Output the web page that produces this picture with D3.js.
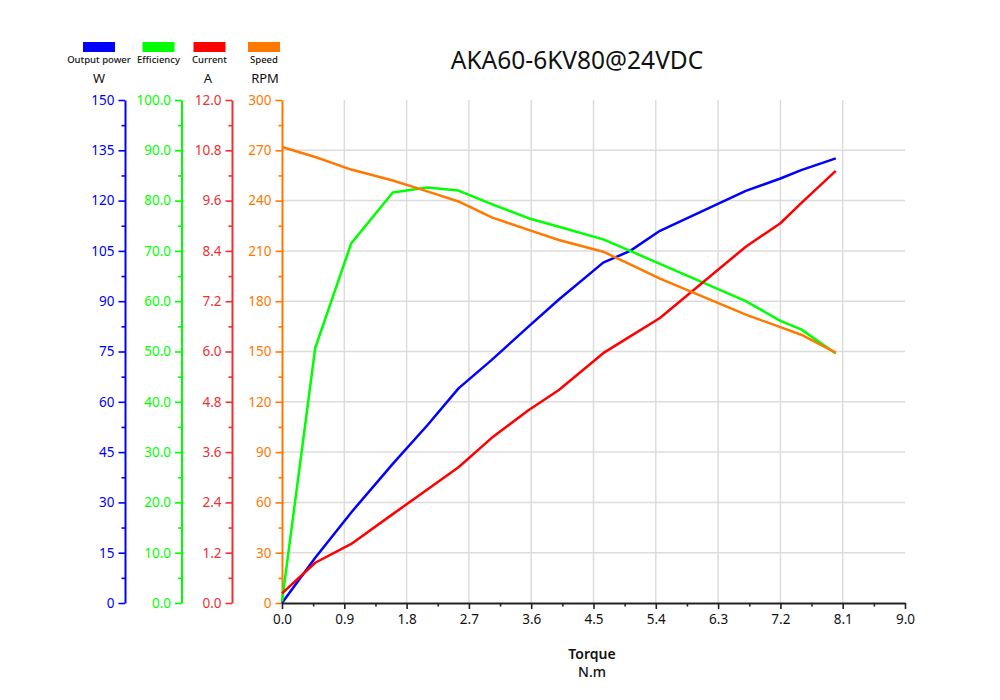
<!DOCTYPE html>
<html>
<head>
<meta charset="utf-8">
<script src="https://cdn.jsdelivr.net/npm/d3@7"></script>
<style>
  body { margin: 0; background: #fff; }
  svg { font-family: "Noto Sans", "Open Sans", sans-serif; }
  .grid line { stroke: #dcdcdc; stroke-width: 1.5; }
  .series { fill: none; stroke-width: 2.5; stroke-linejoin: round; }
</style>
</head>
<body>
<svg id="chart" width="1000" height="700"></svg>
<script>
// Values
const torque     = [0, 0.48, 1.0, 1.6, 2.1, 2.55, 3.03, 3.56, 4.0, 4.64, 5.03, 5.46, 6.7, 7.2, 7.5, 8.0];
const power      = [0, 13.5, 27, 41.5, 53, 64, 72.5, 82.4, 90.5, 101.5, 105, 111, 122.9, 126.6, 129.1, 132.6];
const efficiency = [0.3, 50.7, 71.5, 81.6, 82.6, 82.0, 79.3, 76.5, 74.8, 72.3, 70.0, 67.4, 60.0, 56.1, 54.4, 49.6];
const current    = [0.23, 0.96, 1.41, 2.12, 2.71, 3.24, 3.94, 4.6, 5.08, 5.96, 6.36, 6.8, 8.5, 9.06, 9.54, 10.31];
const speed      = [272, 266, 258.5, 252, 245.5, 239.5, 230, 222.5, 216.5, 209.5, 202, 193.5, 172, 164.5, 160, 149.3];

const xTicks        = [0, 0.9, 1.8, 2.7, 3.6, 4.5, 5.4, 6.3, 7.2, 8.1, 9.0];
const powerTicks    = [0, 15, 30, 45, 60, 75, 90, 105, 120, 135, 150];
const effTicks      = [0, 10, 20, 30, 40, 50, 60, 70, 80, 90, 100];
const currentTicks  = [0, 1.2, 2.4, 3.6, 4.8, 6.0, 7.2, 8.4, 9.6, 10.8, 12.0];
const speedTicks    = [0, 30, 60, 90, 120, 150, 180, 210, 240, 270, 300];

const legendNames = ["Output power", "Efficiency", "Current", "Speed"];
const colors = { power: "#0000ff", eff: "#00ff00", current: "#ff0000", speed: "#ff7800" };

const svg = d3.select("#chart");
const attr = { left: 282, right: 905, top: 100, bottom: 603 };

const x = d3.scaleLinear().domain([0, 9]).range([attr.left, attr.right]);
const yPower = d3.scaleLinear().domain([0, 150]).range([attr.bottom, attr.top]);
const yEff = d3.scaleLinear().domain([0, 100]).range([attr.bottom, attr.top]);
const yCurrent = d3.scaleLinear().domain([0, 12]).range([attr.bottom, attr.top]);
const ySpeed = d3.scaleLinear().domain([0, 300]).range([attr.bottom, attr.top]);

// grid
const grid = svg.append("g").attr("class", "grid");
grid.selectAll("line.h")
  .data(speedTicks.filter(d => d > 0 && d < 300))
  .enter().append("line")
  .attr("x1", attr.left).attr("x2", attr.right)
  .attr("y1", d => ySpeed(d)).attr("y2", d => ySpeed(d));
grid.selectAll("line.v")
  .data(xTicks.filter(d => d > 0 && d < 9))
  .enter().append("line")
  .attr("x1", d => x(d)).attr("x2", d => x(d))
  .attr("y1", attr.top).attr("y2", attr.bottom);

// helper for a left axis with minor ticks
function leftAxis(scale, ticks, fmt, xPos, color) {
  let mids = ticks.slice(1).map((d, i) => (d + ticks[i]) / 2);
  let g = svg.append("g").attr("transform", "translate(" + xPos + ",0)");
  g.append("g")
    .call(d3.axisLeft(scale).tickValues(mids).tickSize(3.5).tickFormat(""))
    .call(a => a.select(".domain").remove());
  g.append("g")
    .call(d3.axisLeft(scale).tickValues(ticks).tickSize(6.5).tickPadding(4).tickFormat(fmt).tickSizeOuter(0));
  g.selectAll("line").attr("stroke", color).attr("stroke-width", 1.6);
  g.selectAll(".domain").attr("stroke", color).attr("stroke-width", 2);
  g.selectAll("text").attr("fill", color).style("font-size", "13.5px")
    .style("font-family", "'Noto Sans', sans-serif");
  return g;
}

leftAxis(yPower, powerTicks, d3.format("d"), 125, colors.power);
leftAxis(yEff, effTicks, d3.format(".1f"), 181.5, colors.eff);
leftAxis(yCurrent, currentTicks, d3.format(".1f"), 232, "#ee3030");
leftAxis(ySpeed, speedTicks, d3.format("d"), attr.left, colors.speed);

// x axis
const xMids = xTicks.slice(1).map((d, i) => (d + xTicks[i]) / 2);
const xg = svg.append("g").attr("transform", "translate(0," + attr.bottom + ")");
xg.append("g")
  .call(d3.axisBottom(x).tickValues(xMids).tickSize(3.5).tickFormat(""))
  .call(a => a.select(".domain").remove());
xg.append("g")
  .call(d3.axisBottom(x).tickValues(xTicks).tickSize(6).tickPadding(5).tickFormat(d3.format(".1f")).tickSizeOuter(0));
xg.selectAll("line").attr("stroke", "#222").attr("stroke-width", 1.6);
xg.selectAll(".domain").attr("stroke", "#222").attr("stroke-width", 2.2);
xg.selectAll("text").attr("fill", "#111").style("font-size", "13.5px")
  .style("font-family", "'Noto Sans', sans-serif");

// series
const rows = torque.map((t, i) => ({ t: t, p: power[i], e: efficiency[i], c: current[i], s: speed[i] }));
const series = [
  { key: "p", scale: yPower, color: colors.power },
  { key: "e", scale: yEff, color: colors.eff },
  { key: "c", scale: yCurrent, color: colors.current },
  { key: "s", scale: ySpeed, color: colors.speed }
];
series.forEach(function(s) {
  svg.append("path")
    .datum(rows)
    .attr("class", "series")
    .attr("stroke", s.color)
    .attr("d", d3.line().x(d => x(d.t)).y(d => s.scale(d[s.key])));
});

// legend
const legendX = [99, 158.5, 209.5, 264];
const legendColors = [colors.power, colors.eff, colors.current, colors.speed];
const legend = svg.append("g");
legend.selectAll("rect")
  .data(legendNames)
  .enter().append("rect")
  .attr("x", (d, i) => legendX[i] - 16)
  .attr("y", 42)
  .attr("width", 32)
  .attr("height", 10)
  .attr("fill", (d, i) => legendColors[i]);
legend.selectAll("text")
  .data(legendNames)
  .enter().append("text")
  .attr("x", (d, i) => legendX[i])
  .attr("y", 63)
  .attr("text-anchor", "middle")
  .style("font-size", "9.5px")
  .style("font-weight", 500)
  .attr("fill", "#111")
  .text(d => d);

// unit labels
const units = [{ t: "W", x: 99 }, { t: "A", x: 208 }, { t: "RPM", x: 265 }];
svg.selectAll("text.unit")
  .data(units)
  .enter().append("text")
  .attr("class", "unit")
  .attr("x", d => d.x)
  .attr("y", 83)
  .attr("text-anchor", "middle")
  .style("font-size", "13px")
  .attr("fill", "#111")
  .text(d => d.t);

// title
svg.append("text")
  .attr("x", 577)
  .attr("y", 69)
  .attr("text-anchor", "middle")
  .style("font-size", "24.5px")
  .attr("fill", "#111")
  .text("AKA60-6KV80@24VDC");

// x axis title
svg.append("text")
  .attr("x", 592)
  .attr("y", 659)
  .attr("text-anchor", "middle")
  .style("font-size", "14px")
  .style("font-weight", 600)
  .attr("fill", "#111")
  .text("Torque");
svg.append("text")
  .attr("x", 592)
  .attr("y", 677)
  .attr("text-anchor", "middle")
  .style("font-size", "14px")
  .style("font-weight", 500)
  .attr("fill", "#111")
  .text("N.m");
</script>
</body>
</html>
